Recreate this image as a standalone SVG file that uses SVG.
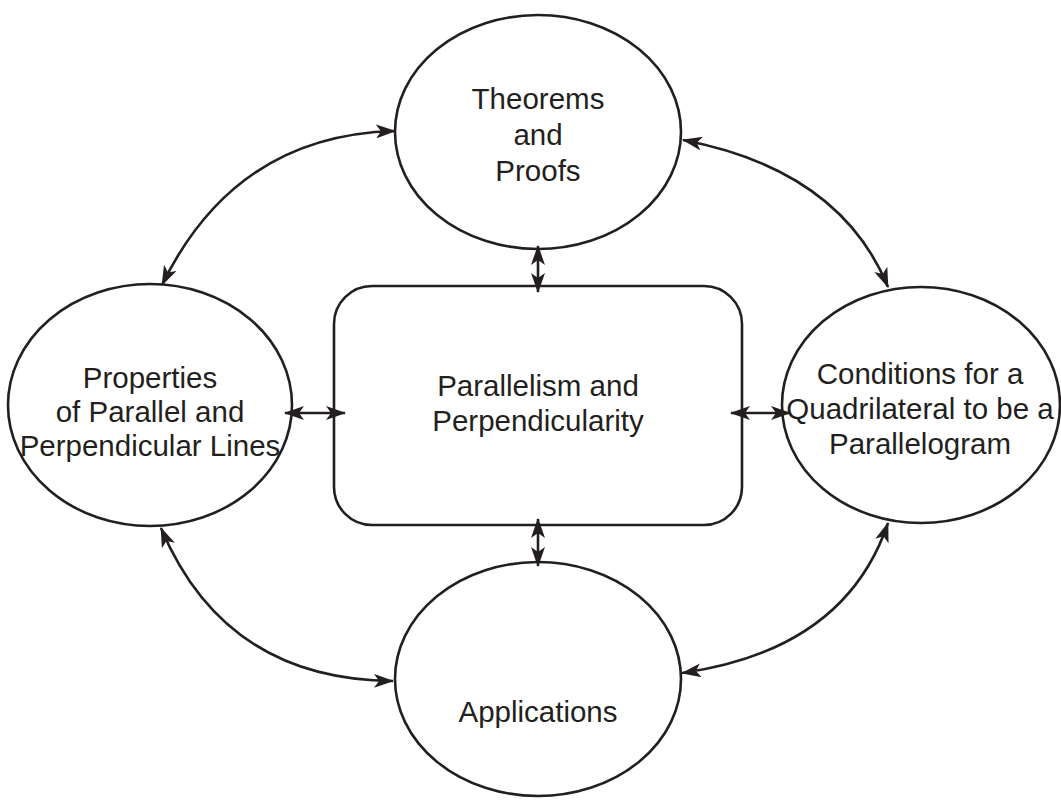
<svg xmlns="http://www.w3.org/2000/svg" width="1061" height="800" viewBox="0 0 1061 800">
<style>
.shape{fill:#fff;stroke:#231f20;stroke-width:2.6}
.conn{fill:none;stroke:#231f20;stroke-width:2.6;marker-start:url(#ah);marker-end:url(#ah)}
text{font-family:"Liberation Sans",Arial,sans-serif;font-size:29.5px;fill:#231f20;text-anchor:middle}
</style>
<defs>
<marker id="ah" viewBox="0 0 20 14" refX="19" refY="7" markerWidth="20" markerHeight="14" markerUnits="userSpaceOnUse" orient="auto-start-reverse">
<path d="M0,0 L20,7 L0,14 L5,7 z" fill="#231f20"/>
</marker>
</defs>
<g id="center">
<rect class="shape" x="334" y="286" width="408" height="239" rx="38"/>
<text x="538" y="396">Parallelism and</text>
<text x="538" y="431">Perpendicularity</text>
</g>
<g id="top">
<ellipse class="shape" cx="538" cy="132" rx="143" ry="117"/>
<text x="538" y="109">Theorems</text>
<text x="538" y="145">and</text>
<text x="538" y="181">Proofs</text>
</g>
<g id="left">
<ellipse class="shape" cx="150" cy="405" rx="142" ry="121"/>
<text x="150" y="388">Properties</text>
<text x="150" y="422">of Parallel and</text>
<text x="150" y="456">Perpendicular Lines</text>
</g>
<g id="right">
<ellipse class="shape" cx="921" cy="405" rx="139" ry="118"/>
<text x="920" y="384">Conditions for a</text>
<text x="920" y="419">Quadrilateral to be a</text>
<text x="920" y="454">Parallelogram</text>
</g>
<g id="bottom">
<ellipse class="shape" cx="538" cy="679" rx="143" ry="117"/>
<text x="538" y="722">Applications</text>
</g>
<g id="connectors">
<path class="conn" d="M538,246 L538,292"/>
<path class="conn" d="M538,519 L538,566"/>
<path class="conn" d="M285,413 L345,413"/>
<path class="conn" d="M731,413 L790,413"/>
<path class="conn" d="M162,285 Q235,135 395,131"/>
<path class="conn" d="M683,140 Q840,170 888,287"/>
<path class="conn" d="M161,528 Q225,680 393,681"/>
<path class="conn" d="M682,673 Q845,650 888,523"/>
</g>
</svg>
